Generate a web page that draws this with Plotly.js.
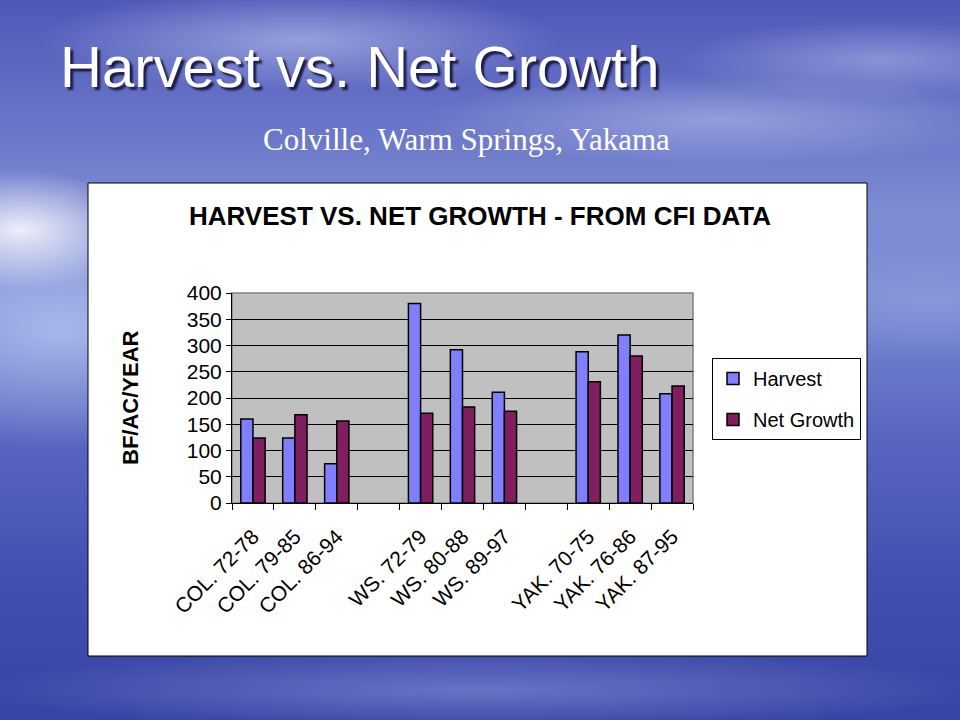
<!DOCTYPE html>
<html>
<head>
<meta charset="utf-8">
<script src="https://cdn.plot.ly/plotly-3.0.1.min.js"></script>
<style>
  html, body { margin: 0; padding: 0; }
  body {
    width: 960px; height: 720px; overflow: hidden;
    background:
      radial-gradient(ellipse 120px 60px at 20px 230px, rgba(255,255,255,0.85), rgba(255,255,255,0) 100%),
      radial-gradient(ellipse 260px 50px at 300px 40px, rgba(200,210,245,0.55), rgba(200,210,245,0) 100%),
      radial-gradient(ellipse 300px 45px at 720px 120px, rgba(200,210,245,0.45), rgba(200,210,245,0) 100%),
      radial-gradient(ellipse 200px 40px at 880px 60px, rgba(190,200,240,0.45), rgba(190,200,240,0) 100%),
      radial-gradient(ellipse 250px 120px at 60px 330px, rgba(190,205,245,0.7), rgba(190,205,245,0) 100%),
      radial-gradient(ellipse 200px 60px at 930px 300px, rgba(150,165,225,0.5), rgba(150,165,225,0) 100%),
      radial-gradient(ellipse 500px 40px at 480px 690px, rgba(150,160,225,0.5), rgba(150,160,225,0) 100%),
      linear-gradient(180deg, #5058b8 0%, #6a76c8 18%, #7e8cd4 30%, #7888d2 42%, #5a66c0 60%, #4450b0 80%, #3844a4 100%);
  }
  #chart { width: 960px; height: 720px; }
</style>
</head>
<body>
<div id="chart"></div>
<script>
// ---- data ----
var categories = ["COL. 72-78", "COL. 79-85", "COL. 86-94", " ",
                  "WS. 72-79", "WS. 80-88", "WS. 89-97", "  ",
                  "YAK. 70-75", "YAK. 76-86", "YAK. 87-95"];
var harvest    = [160, 124, 75, null, 380, 292, 211, null, 288, 320, 208];
var netGrowth  = [124, 168, 156, null, 171, 183, 175, null, 231, 280, 223];
var seriesNames = ["Harvest", "Net Growth"];
var yTickVals = [0, 50, 100, 150, 200, 250, 300, 350, 400];

// ---- layout helpers (pixel -> paper coords of plot area) ----
var L = 232, R = 693, T = 293, B = 503;
function fx(px) { return (px - L) / (R - L); }
function fy(py) { return (B - py) / (B - T); }

var traces = [
  { type: "bar", name: seriesNames[0], x: categories, y: harvest,
    legendgroup: "a",
    marker: { color: "#8080FF", line: { color: "#000000", width: 1.5 } } },
  { type: "bar", name: seriesNames[1], x: categories, y: netGrowth,
    legendgroup: "b",
    marker: { color: "#7F1F5F", line: { color: "#000000", width: 1.5 } } }
];

var layout = {
  width: 960, height: 720,
  margin: { l: L, r: 960 - R, t: T, b: 720 - B, pad: 0 },
  paper_bgcolor: "rgba(0,0,0,0)",
  plot_bgcolor: "rgba(0,0,0,0)",
  barmode: "group",
  bargap: 0.42,
  bargroupgap: 0,
  showlegend: true,
  title: {
    text: "Harvest vs. Net Growth",
    x: 60 / 960, xanchor: "left", xref: "container",
    y: 1 - 67 / 720, yanchor: "middle", yref: "container",
    font: { family: "Liberation Sans, Arial, sans-serif", size: 58, color: "#FFFFFF",
            shadow: "3px 3px 2px rgba(20,20,60,0.9)" }
  },
  legend: {
    x: fx(712), y: fy(358), xanchor: "left", yanchor: "top",
    xref: "paper", yref: "paper",
    bgcolor: "#FFFFFF", bordercolor: "#000000", borderwidth: 1,
    font: { family: "Liberation Sans, Arial, sans-serif", size: 20, color: "#000000" },
    traceorder: "grouped", tracegroupgap: 12,
    itemwidth: 30
  },
  xaxis: {
    type: "category",
    tickangle: -45,
    tickson: "boundaries",
    ticks: "outside", ticklen: 6, tickcolor: "#000000", tickwidth: 1,
    ticklabelstandoff: 12,
    showline: true, linecolor: "#000000", linewidth: 1,
    showgrid: false, zeroline: false,
    tickfont: { family: "Liberation Sans, Arial, sans-serif", size: 21, color: "#000000" }
  },
  yaxis: {
    range: [0, 400],
    tickvals: yTickVals,
    ticks: "outside", ticklen: 5, tickcolor: "#000000", tickwidth: 1,
    showline: true, linecolor: "#000000", linewidth: 1,
    showgrid: true, gridcolor: "#000000", gridwidth: 1,
    zeroline: false,
    tickfont: { family: "Liberation Sans, Arial, sans-serif", size: 21, color: "#000000" }
  },
  shapes: [
    { type: "rect", xref: "paper", yref: "paper", layer: "below",
      x0: fx(88), x1: fx(867), y0: fy(656), y1: fy(183),
      fillcolor: "#FFFFFF", line: { color: "#000000", width: 1 } },
    { type: "rect", xref: "paper", yref: "paper", layer: "below",
      x0: 0, x1: 1, y0: 0, y1: 1,
      fillcolor: "#C0C0C0", line: { color: "#808080", width: 1.5 } }
  ],
  annotations: [
    { text: "Colville, Warm Springs, Yakama", xref: "paper", yref: "paper",
      x: fx(466), y: fy(139), xanchor: "center", yanchor: "middle", showarrow: false,
      font: { family: "Liberation Serif, Times New Roman, serif", size: 31, color: "#FFFFFF" } },
    { text: "<b>HARVEST VS. NET GROWTH - FROM CFI DATA</b>", xref: "paper", yref: "paper",
      x: fx(480), y: fy(216), xanchor: "center", yanchor: "middle", showarrow: false,
      font: { family: "Liberation Sans, Arial, sans-serif", size: 26, color: "#000000" } },
    { text: "<b>BF/AC/YEAR</b>", xref: "paper", yref: "paper",
      x: fx(130), y: fy(398), xanchor: "center", yanchor: "middle", showarrow: false,
      textangle: -90,
      font: { family: "Liberation Sans, Arial, sans-serif", size: 22, color: "#000000" } }
  ]
};

Plotly.newPlot("chart", traces, layout, { displayModeBar: false, staticPlot: true });
</script>
</body>
</html>
